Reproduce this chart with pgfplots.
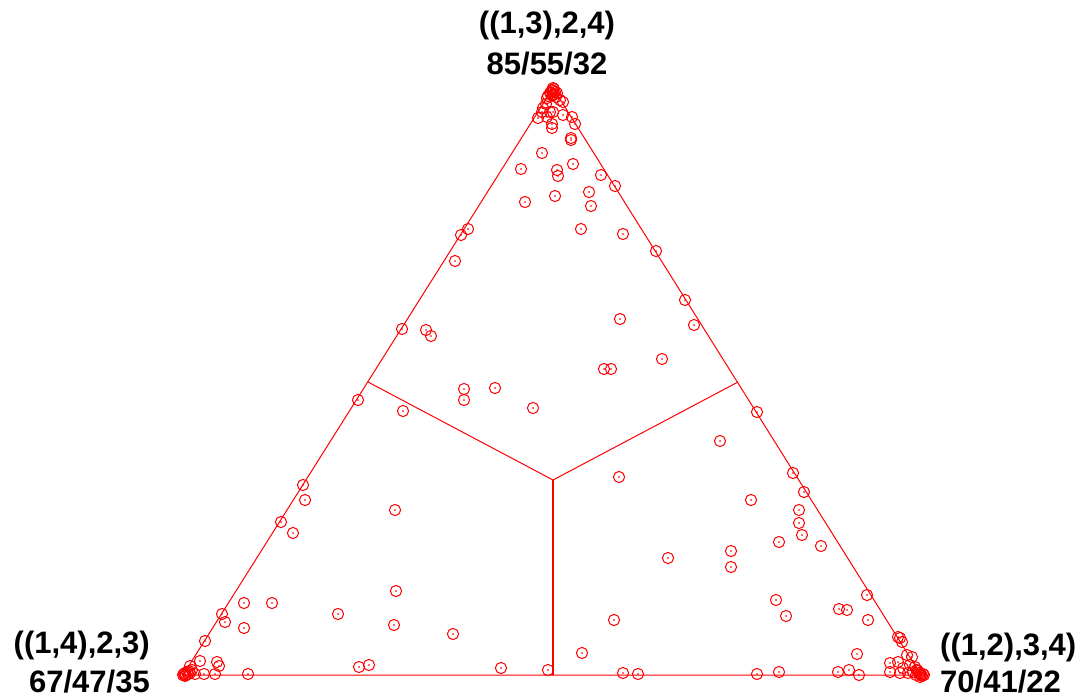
\documentclass[border=0pt]{standalone}
\usepackage{pgfplots}
\pgfplotsset{compat=1.18}
\usepackage{pgfplotstable}
\usepackage{fontspec}
\setmainfont{Liberation Sans}

% point positions, in pixels (y grows downwards)
\pgfplotstableread{
x y
553 88
554 89
552 90
553 91
555 92
551 93
554 94
550 93
557 93
553 95
556 97
548 96
547 98
560 100
563 102
543 108
546 104
550 112
542 112
553 112
563 115
538 118
547 117
572 117
575 124
552 124
552 128
571 138
571 140
542 153
521 169
557 170
558 176
573 164
601 175
615 186
525 202
555 196
589 192
591 206
581 229
623 234
468 229
461 235
656 251
455 261
685 300
620 319
694 325
662 359
604 369
611 369
402 329
426 330
431 336
464 389
495 388
464 400
358 400
403 411
533 408
757 412
720 441
619 477
793 473
804 492
751 500
799 510
799 523
802 535
779 542
821 546
731 551
668 558
731 567
776 600
786 616
839 609
847 610
867 595
868 620
614 620
582 653
857 654
623 673
638 674
757 674
779 672
838 672
849 670
859 675
898 637
900 638
902 642
912 657
907 655
890 663
898 662
890 672
900 673
908 673
903 668
915 667
910 665
921 675
920 674
919 673
922 676
918 671
923 674
917 670
920 677
916 675
924 675
913 672
501 668
548 670
303 485
305 500
395 510
281 522
293 533
396 591
244 603
272 603
222 614
338 614
225 622
244 628
394 625
453 634
205 641
200 661
217 662
219 666
359 667
369 665
248 674
204 674
215 674
190 666
195 674
183 675
184 674
185 673
186 675
187 672
188 674
185 676
189 671
190 673
192 670
}\pts

\begin{document}
\begin{tikzpicture}
\begin{axis}[
  width=1089bp, height=700bp, scale only axis,
  xmin=0, xmax=1089, ymin=0, ymax=700,
  y dir=reverse,
  hide axis, clip=false,
]
% triangle and the three dividing lines
\addplot[red, line width=1bp] coordinates {(183,675)(921,675)(553,88)(183,675)};
\addplot[red, line width=1bp] coordinates {(368,382)(553,480)(738,382)};
\addplot[red, line width=1.2bp] coordinates {(553,480)(553,675)};

\addplot[only marks, mark=o, mark size=5.6bp, red, mark options={line width=1bp}] table {\pts};
\addplot[only marks, mark=*, mark size=0.5bp, red] table {\pts};

\node[anchor=base, font=\bfseries\fontsize{31bp}{36bp}\selectfont] at (axis cs:547,33) {((1,3),2,4)};
\node[anchor=base, font=\bfseries\fontsize{31bp}{36bp}\selectfont] at (axis cs:547,74) {85/55/32};
\node[anchor=base east, font=\bfseries\fontsize{31bp}{36bp}\selectfont, inner sep=0pt] at (axis cs:150,653) {((1,4),2,3)};
\node[anchor=base east, font=\bfseries\fontsize{31bp}{36bp}\selectfont, inner sep=0pt] at (axis cs:150,692) {67/47/35};
\node[anchor=base west, font=\bfseries\fontsize{31bp}{36bp}\selectfont, inner sep=0pt] at (axis cs:940,655) {((1,2),3,4)};
\node[anchor=base west, font=\bfseries\fontsize{31bp}{36bp}\selectfont, inner sep=0pt] at (axis cs:940,692) {70/41/22};
\end{axis}
\pgfresetboundingbox
\path[use as bounding box] (0,0) rectangle (1089bp,700bp);
\end{tikzpicture}
\end{document}
